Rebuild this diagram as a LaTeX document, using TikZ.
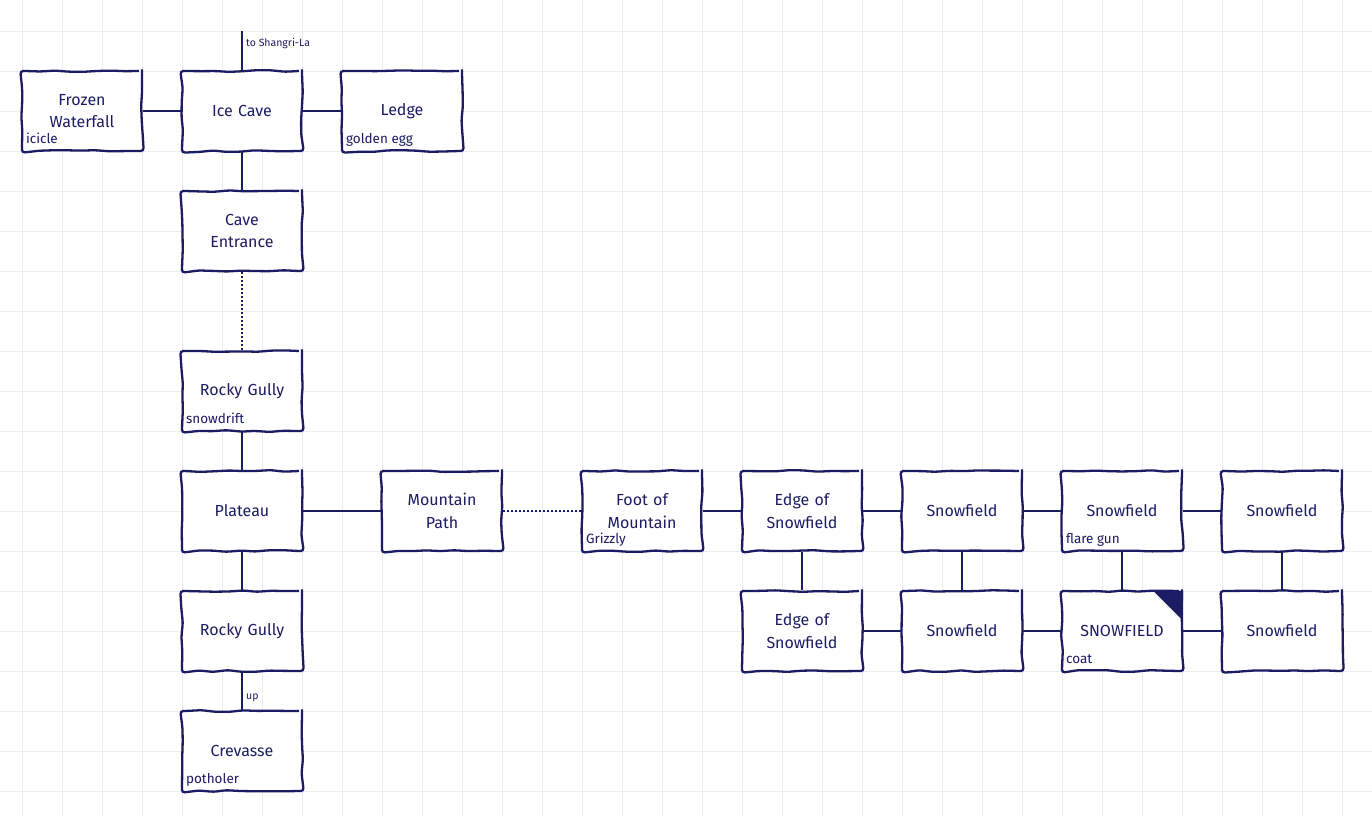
\documentclass[tikz,border=0pt]{standalone}
\usepackage{fontspec}
\setmainfont{Fira Sans}
\usetikzlibrary{decorations.pathmorphing}
\definecolor{ink}{RGB}{28,28,100}
\definecolor{gridc}{RGB}{236,236,242}
\begin{document}
\begin{tikzpicture}[x=1pt,y=-1pt,
  room/.style={draw=ink, line width=2.3pt, fill=white, minimum width=120pt, minimum height=80pt,
    inner sep=0pt, text width=112pt, align=center, text=ink,
    font=\fontsize{16}{22.5}\selectfont,
    decorate, decoration={random steps, segment length=14pt, amplitude=0.9pt}, rounded corners=3pt},
  sub/.style={text=ink, inner sep=0pt, anchor=base west, font=\fontsize{13.5}{15}\selectfont},
  tiny/.style={text=ink, inner sep=0pt, anchor=west, font=\fontsize{10.5}{12}\selectfont},
  conn/.style={draw=ink, line width=2.3pt},
  dotc/.style={draw=ink, line width=2pt, dash pattern=on 2pt off 2pt}]
\pgfmathsetseed{7}
\useasboundingbox (0,0) rectangle (1372,816);
\fill[white] (0,0) rectangle (1372,816);
% grid
\foreach \gx in {22,62,...,1342} \draw[gridc, line width=0.8pt] (\gx,0) -- (\gx,816);
\foreach \gy in {31,71,...,791} \draw[gridc, line width=0.8pt] (0,\gy) -- (1372,\gy);
% rooms
\node[room] (fw)  at (82,111)   {Frozen\\Waterfall};
\node[room] (ice) at (242,111)  {Ice Cave};
\node[room] (led) at (402,111)  {Ledge};
\node[room] (ce)  at (242,231)  {Cave\\Entrance};
\node[room] (rg1) at (242,391)  {Rocky Gully};
\node[room] (pla) at (242,511)  {Plateau};
\node[room] (rg2) at (242,631)  {Rocky Gully};
\node[room] (cre) at (242,751)  {Crevasse};
\node[room] (mp)  at (442,511)  {Mountain\\Path};
\node[room] (fom) at (642,511)  {Foot of\\Mountain};
\node[room] (es1) at (802,511)  {Edge of\\Snowfield};
\node[room] (sf1) at (962,511)  {Snowfield};
\node[room] (sf2) at (1122,511) {Snowfield};
\node[room] (sf3) at (1282,511) {Snowfield};
\node[room] (es2) at (802,631)  {Edge of\\Snowfield};
\node[room] (sf4) at (962,631)  {Snowfield};
\node[room] (sf5) at (1122,631) {SNOWFIELD};
\node[room] (sf6) at (1282,631) {Snowfield};
% corner mark
\fill[ink] ([xshift=-30pt,yshift=-1pt]sf5.north east) -- ([yshift=-1pt]sf5.north east) -- ([yshift=-31pt]sf5.north east) -- cycle;
% item labels
\node[sub] (i1) at ([xshift=5pt,yshift=9pt]fw.south west)  {icicle};
\node[sub] (i2) at ([xshift=5pt,yshift=9pt]led.south west) {golden egg};
\node[sub] (i3) at ([xshift=5pt,yshift=9pt]rg1.south west) {snowdrift};
\node[sub] (i4) at ([xshift=5pt,yshift=9pt]cre.south west) {potholer};
\node[sub] (i5) at ([xshift=5pt,yshift=9pt]fom.south west) {Grizzly};
\node[sub] (i6) at ([xshift=5pt,yshift=9pt]sf2.south west) {flare gun};
\node[sub] (i7) at ([xshift=5pt,yshift=9pt]sf5.south west) {coat};
% connectors
\coordinate (sh) at (242,31);
\draw[conn] (sh) -- (ice);
\node[tiny] (shl) at (246,44) {to Shangri-La};
\draw[conn] (fw) -- (ice);
\draw[conn] (ice) -- (led);
\draw[conn] (ice) -- (ce);
\draw[dotc] (ce) -- (rg1);
\draw[conn] (rg1) -- (pla);
\draw[conn] (pla) -- (rg2);
\draw[conn] (rg2) -- (cre);
\node[tiny] (upl) at (246,698) {up};
\draw[conn] (pla) -- (mp);
\draw[dotc] (mp) -- (fom);
\draw[conn] (fom) -- (es1);
\draw[conn] (es1) -- (sf1);
\draw[conn] (sf1) -- (sf2);
\draw[conn] (sf2) -- (sf3);
\draw[conn] (es1) -- (es2);
\draw[conn] (sf1) -- (sf4);
\draw[conn] (sf2) -- (sf5);
\draw[conn] (sf3) -- (sf6);
\draw[conn] (es2) -- (sf4);
\draw[conn] (sf4) -- (sf5);
\draw[conn] (sf5) -- (sf6);
\end{tikzpicture}
\end{document}
